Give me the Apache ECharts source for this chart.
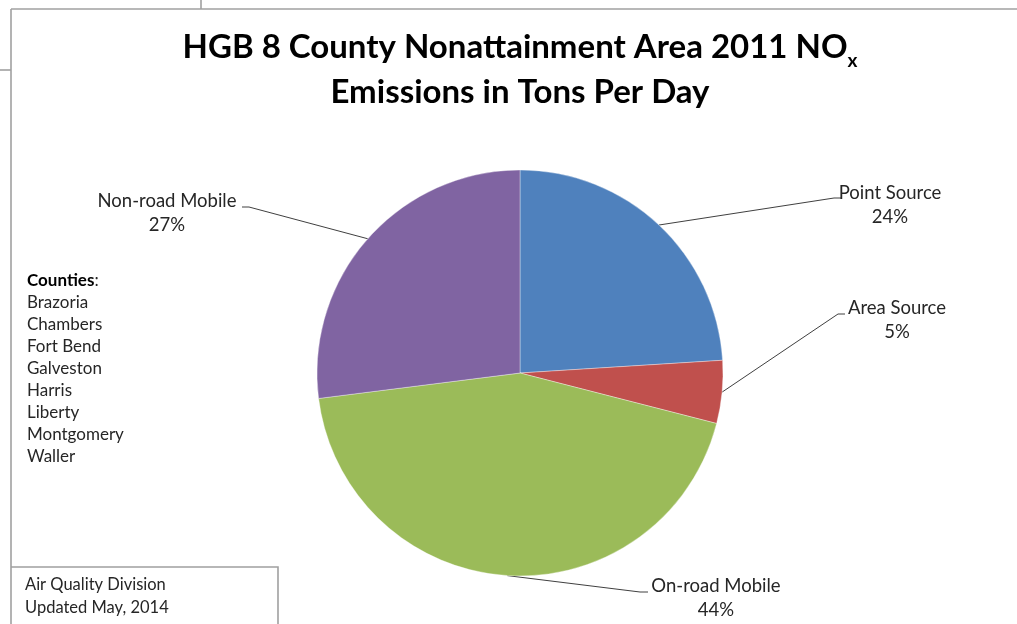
<!DOCTYPE html>
<html>
<head>
<meta charset="utf-8">
<script src="https://cdn.jsdelivr.net/npm/echarts@6/dist/echarts.min.js"></script>
<style>
html,body{margin:0;padding:0;background:#fff;}
#chart{width:1017px;height:624px;}
</style>
</head>
<body>
<div id="chart"></div>
<script>
// ---- data ----
const categories = ['Point Source', 'Area Source', 'On-road Mobile', 'Non-road Mobile'];
const shares = [24, 5, 44, 27];
const colors = ['#4F81BD', '#C0504D', '#9BBB59', '#8064A2'];
const counties = ['Brazoria', 'Chambers', 'Fort Bend', 'Galveston', 'Harris', 'Liberty', 'Montgomery', 'Waller'];
const titleLine1 = 'HGB 8 County Nonattainment Area 2011 NO';
const titleSub = 'x';
const titleLine2 = 'Emissions in Tons Per Day';
const footnote = ['Air Quality Division', 'Updated May, 2014'];

// ---- layout (label placement, not data) ----
const labelPos = [
  {x: 890, y: 205, bend: [834, 198], end: [841, 198]},
  {x: 897, y: 320, bend: [838, 314], end: [845, 314]},
  {x: 716, y: 598, bend: [640, 592], end: [648, 592]},
  {x: 167, y: 213, bend: [249, 207], end: [242, 207]}
];

const FONT = 'Lato, "Open Sans", sans-serif';
const chart = echarts.init(document.getElementById('chart'), null, {renderer: 'canvas'});

const frameColor = '#a0a0a0';
const option = {
  backgroundColor: '#fff',
  animation: false,
  title: {
    text: '{t|' + titleLine1 + '}{s|' + titleSub + '}\n{t|' + titleLine2 + '}',
    left: 520,
    top: 25,
    textAlign: 'center',
    padding: 0,
    textStyle: {
      rich: {
        t: {fontFamily: FONT, fontWeight: 'bold', fontSize: 33, lineHeight: 45, color: '#000'},
        s: {fontFamily: FONT, fontWeight: 'bold', fontSize: 19, lineHeight: 20, verticalAlign: 'bottom', color: '#000'}
      }
    }
  },
  series: [{
    type: 'pie',
    center: [520, 373],
    radius: 203,
    startAngle: 90,
    clockwise: true,
    avoidLabelOverlap: false,
    itemStyle: {borderColor: 'rgba(255,255,255,0.6)', borderWidth: 0.6},
    label: {
      show: true,
      position: 'outside',
      formatter: '{b}\n{d}%',
      fontFamily: FONT,
      fontSize: 18.5,
      lineHeight: 24,
      color: '#262626',
      align: 'center'
    },
    labelLine: {show: true, lineStyle: {color: '#404040', width: 1}},
    labelLayout: function (params) {
      const lp = labelPos[params.dataIndex];
      const res = {x: lp.x, y: lp.y, align: 'center', verticalAlign: 'middle'};
      if (params.labelLinePoints && params.labelLinePoints.length) {
        const p0 = params.labelLinePoints[0];
        res.labelLinePoints = [[p0[0], p0[1]], lp.bend, lp.end];
      }
      return res;
    },
    emphasis: {disabled: true},
    data: categories.map((c, i) => ({name: c, value: shares[i], itemStyle: {color: colors[i]}}))
  }],
  graphic: [
    {type: 'line', shape: {x1: 11, y1: 9, x2: 1017, y2: 9}, style: {stroke: frameColor, lineWidth: 1.6}},
    {type: 'line', shape: {x1: 11, y1: 9, x2: 11, y2: 624}, style: {stroke: frameColor, lineWidth: 1.6}},
    {type: 'line', shape: {x1: 201, y1: 0, x2: 201, y2: 9}, style: {stroke: frameColor, lineWidth: 1.6}},
    {type: 'line', shape: {x1: 0, y1: 70, x2: 11, y2: 70}, style: {stroke: frameColor, lineWidth: 1.6}},
    {type: 'polyline', shape: {points: [[11, 567], [278, 567], [278, 624]]}, style: {stroke: frameColor, lineWidth: 1.6, fill: null}},
    {
      type: 'text', left: 27, top: 269,
      style: {
        text: '{b|Counties}:\n' + counties.join('\n'),
        font: '17px ' + FONT,
        fill: '#262626',
        lineHeight: 22.1,
        rich: {b: {fontWeight: 'bold', fontSize: 17, fontFamily: FONT, fill: '#000', lineHeight: 22.1}}
      }
    },
    {
      type: 'text', left: 25, top: 573,
      style: {text: footnote.join('\n'), font: '16.5px ' + FONT, fill: '#262626', lineHeight: 23}
    }
  ]
};
chart.setOption(option);
</script>
</body>
</html>
